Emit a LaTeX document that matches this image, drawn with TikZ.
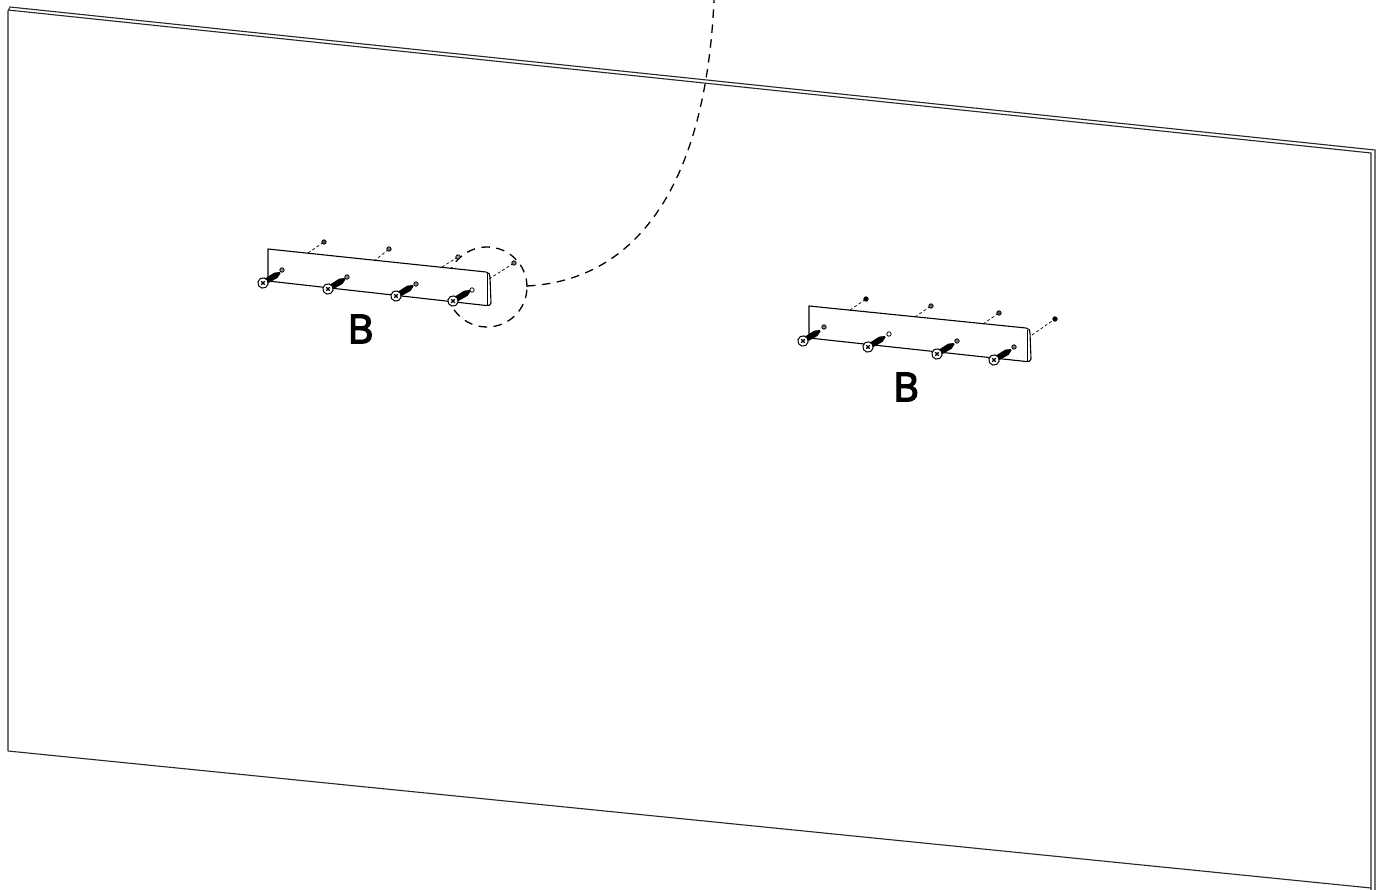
\documentclass[tikz,border=0pt]{standalone}
\usepackage{fontspec}
\newfontfamily\letterfont[FakeBold=3.5]{Open Sans}
\tikzset{
  panel/.style={line width=1.1pt,black!85},
  bracket/.style={line width=1.1pt,black,line join=round},
  leader/.style={line width=.7pt,dash pattern=on 3pt off 2.2pt},
  guide/.style={line width=1.3pt,dash pattern=on 8.5pt off 6.5pt},
  letter/.style={font=\fontsize{40}{40}\letterfont,inner sep=0pt},
  hole/.style={circle,draw=black,line width=.8pt,inner sep=0pt,minimum size=4.4pt},
}
\newcommand{\myscrew}[2]{%
  \begin{scope}[shift={(#1,#2)},rotate=31]
    \fill[black] (3,-2.8) -- (15,-3.1) -- (20,-.8) -- (20,.8) -- (15,3.1) -- (3,2.8) -- cycle;
    \draw[line width=1pt,fill=white] (0,0) circle (5.2pt);
    \draw[line width=1.2pt,rotate=15] (-2.5,0) -- (2.5,0) (0,-2.5) -- (0,2.5);
  \end{scope}}
\newcommand{\myleader}[5]{%
  \draw[leader] (#1,#2) -- (#3,#4);
  \node[hole,fill=#5] at (#3,#4) {};}
\begin{document}
\begin{tikzpicture}[x=1pt,y=-1pt]
\useasboundingbox (0,0) rectangle (1384,890);
% panel
\draw[panel] (8,751) -- (8,11) -- (10,7) -- (1375,150) -- (1375,890);
\draw[panel] (8,10) -- (1371,153) -- (1371,890);
\draw[panel] (8,751) -- (1371,888);
% guide
\draw[guide] (487,287) circle (40pt);
\draw[guide] (527,286) .. controls (640,280) and (706,180) .. (714,0);
% bracket left
\draw[bracket,fill=white] (268,281) -- (268,249) -- (486,272) .. controls (489,272.5) and (490,274) .. (490,277) -- (491,303) .. controls (491,305) and (489,306) .. (486,305.5) -- cycle;
\draw[line width=.6pt] (487,273) -- (487,305);
\myleader{308}{253}{324}{242}{black!70}
\myleader{374}{261}{389}{249}{black!55}
\myleader{442}{267}{458}{257}{black!40}
\myleader{489}{279}{514}{263}{black!50}
\node[hole,fill=black!45] at (282,270) {};
\node[hole,fill=black!45] at (347,277) {};
\node[hole,fill=black!45] at (416,284) {};
\node[hole,fill=white] at (472,290) {};
\myscrew{263}{283}\myscrew{328}{289}\myscrew{396}{296}\myscrew{453}{301}
\node[letter] (b1) at (360.5,329) {B};
% bracket right
\draw[bracket,fill=white] (809,338) -- (809,306) -- (1026,328) .. controls (1029,328.5) and (1030,330) .. (1030,333) -- (1031,359) .. controls (1031,361) and (1029,362) .. (1026,361.5) -- cycle;
\draw[line width=.6pt] (1027,330) -- (1027,361);
\myleader{850}{310}{866}{299}{black}
\myleader{915}{317}{931}{306}{black!60}
\myleader{983}{324}{999}{313}{black!70}
\myleader{1032}{335}{1055}{319}{black}
\node[hole,fill=black!50] at (824,327) {};
\node[hole,fill=white] at (889,334) {};
\node[hole,fill=black!50] at (957,341) {};
\node[hole,fill=black!50] at (1014,347) {};
\myscrew{803}{341}\myscrew{868}{347}\myscrew{937}{354}\myscrew{994}{360}
\node[letter] (b2) at (906,387) {B};
\end{tikzpicture}
\end{document}
